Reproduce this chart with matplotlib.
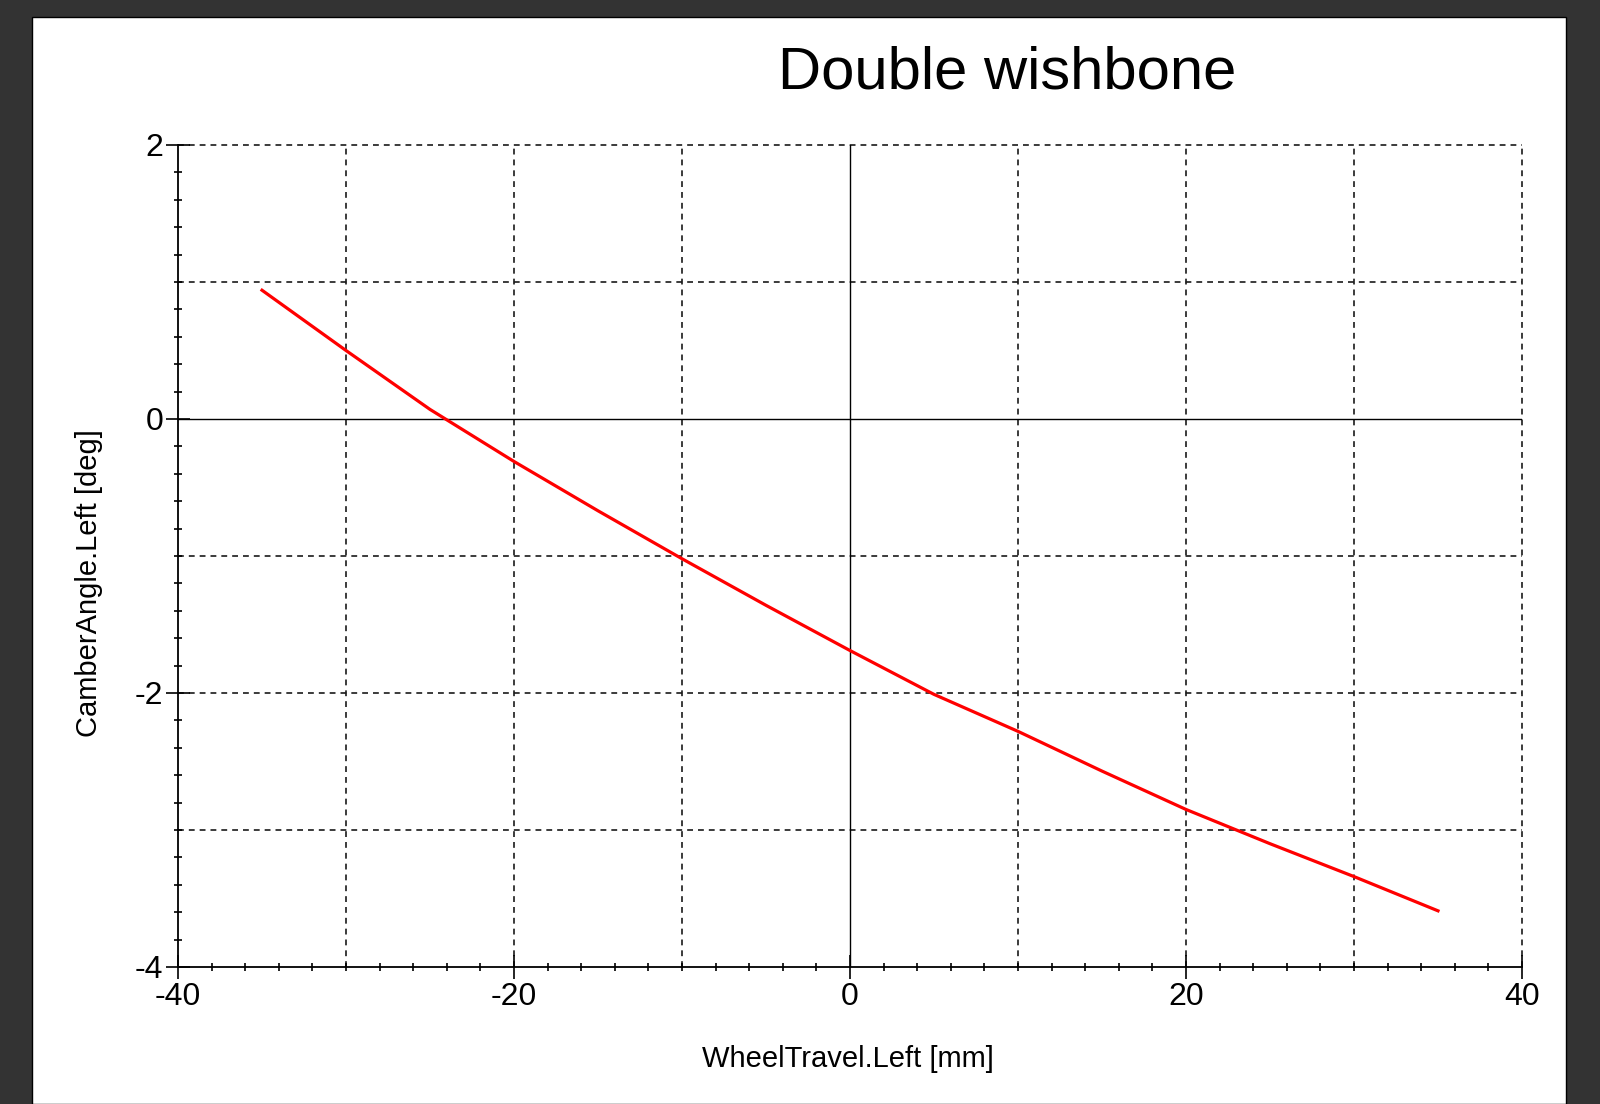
import matplotlib.pyplot as plt
import numpy as np
from matplotlib.patches import Rectangle
from matplotlib.ticker import MultipleLocator, FixedLocator

# Datos (WheelTravel vs CamberAngle)
wheel_travel = [-35, -30, -25, -20, -15, -10, -5, 0, 5, 10, 15, 20, 25, 30, 35]
camber_angle = [0.94, 0.50, 0.07, -0.31, -0.67, -1.02, -1.36, -1.69,
                -2.01, -2.28, -2.57, -2.85, -3.10, -3.34, -3.59]

x_major = [-40, -20, 0, 20, 40]
y_major = [-4, -2, 0, 2]

plt.rcParams["font.family"] = ["Liberation Sans", "DejaVu Sans"]

fig = plt.figure(figsize=(16, 11.04), dpi=100)
fig.patch.set_facecolor("#333333")

# panel blanco tipo captura
W, H = 1600, 1104
panel = Rectangle((32 / W, 0), (1566 - 32) / W, (H - 17) / H,
                  transform=fig.transFigure, facecolor="white",
                  edgecolor="black", linewidth=1.0, zorder=-10)
fig.patches.append(panel)

ax = fig.add_axes([178 / W, 1 - 967 / H, (1522 - 178) / W, (967 - 145) / H])
ax.patch.set_alpha(0)

ax.set_xlim(-40, 40)
ax.set_ylim(-4, 2)

# rejilla punteada
grid_kw = dict(color="#1a1a1a", linewidth=1.2, linestyle=(0, (3.5, 3)),
               zorder=1, clip_on=False)
for gx in np.arange(-30, 41, 10):
    if gx != 0:
        ax.axvline(gx, **grid_kw)
for gy in np.arange(-3, 3, 1):
    if gy != 0:
        ax.axhline(gy, **grid_kw)
ax.axvline(0, color="black", linewidth=1.0, zorder=1)
ax.axhline(0, color="black", linewidth=1.0, zorder=1)

ax.plot(wheel_travel, camber_angle, color="red", linewidth=2.3, zorder=3)

for side in ["top", "right"]:
    ax.spines[side].set_visible(False)
for side in ["left", "bottom"]:
    ax.spines[side].set_linewidth(1.3)
    ax.spines[side].set_color("black")

ax.xaxis.set_major_locator(FixedLocator(x_major))
ax.yaxis.set_major_locator(FixedLocator(y_major))
ax.xaxis.set_minor_locator(MultipleLocator(2))
ax.yaxis.set_minor_locator(MultipleLocator(0.2))
ax.set_xticklabels([str(v) for v in x_major])
ax.set_yticklabels([str(v) for v in y_major])

ax.tick_params(which="major", direction="inout", length=17, width=1.2,
               labelsize=23, color="black")
ax.tick_params(axis="x", which="major", pad=2)
ax.tick_params(axis="y", which="major", pad=2)
ax.tick_params(which="minor", direction="inout", length=6, width=1.2,
               color="black")

fig.text(1007 / W, 1 - 73 / H, "Double wishbone", fontsize=43,
         ha="center", va="center")
fig.text(848 / W, 1 - 1059 / H, "WheelTravel.Left [mm]", fontsize=21,
         ha="center", va="center")
fig.text(89 / W, 1 - 583 / H, "CamberAngle.Left [deg]", fontsize=21,
         ha="center", va="center", rotation=90)

fig.savefig("out.png", dpi=100, facecolor=fig.get_facecolor())
